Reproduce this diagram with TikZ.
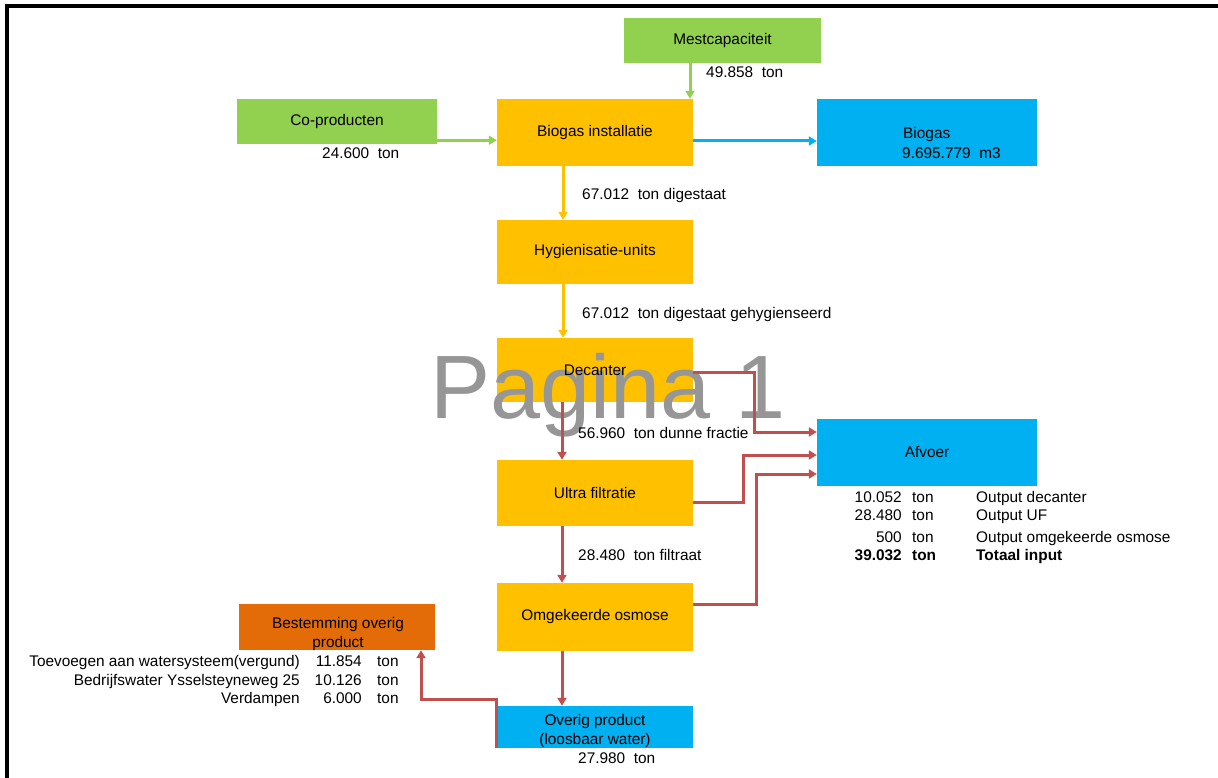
\documentclass[tikz,border=0pt]{standalone}
\usepackage{fontspec}
\setmainfont{Liberation Sans}
\usetikzlibrary{arrows.meta}
\definecolor{cgreen}{HTML}{92D050}
\definecolor{corange}{HTML}{FFC000}
\definecolor{cblue}{HTML}{00B0F0}
\definecolor{cdark}{HTML}{E36C09}
\definecolor{cred}{HTML}{C0504D}
\definecolor{cwm}{HTML}{969696}
\begin{document}
\begin{tikzpicture}[x=1pt,y=-1pt,
  font=\fontsize{15.4}{19}\selectfont,
  box/.style={inner sep=0pt, minimum width=#1, align=center},
  txt/.style={inner sep=0pt},
  conn/.style={line width=3pt, -{Triangle[length=8pt,width=9pt]}},
  garrow/.style={conn, draw=cgreen},
  oarrow/.style={conn, draw=corange},
  barrow/.style={conn, draw=cblue},
  rarrow/.style={conn, draw=cred}
]
\useasboundingbox (0,0) rectangle (1218,778);
\fill[white] (0,0) rectangle (1218,778);
\draw[line width=4pt] (7,778) -- (7,6.5) -- (1218,6.5);

% boxes
\node[box=200pt, minimum height=45pt, fill=cgreen] (copr) at (337,121.5) {Co-producten};
\node[box=197pt, minimum height=45pt, fill=cgreen] (mest) at (722.5,40.5) {Mestcapaciteit};
\node[box=196pt, minimum height=67pt, fill=corange] (bioi) at (595,132.5) {Biogas installatie};
\node[box=220pt, minimum height=67pt, fill=cblue] (biog) at (927,132.5) {};
\node[box=196pt, minimum height=64pt, fill=corange] (hyg) at (595,252) {Hygienisatie-units};
\node[box=196pt, minimum height=64pt, fill=corange] (dec) at (595,370) {};
\node[box=196pt, minimum height=66pt, fill=corange] (uf) at (595,493) {Ultra filtratie};
\node[box=196pt, minimum height=68pt, fill=corange] (ro) at (595,617) {Omgekeerde osmose};
\node[box=196pt, minimum height=42pt, fill=cblue] (ov) at (595,727) {};
\node[box=196pt, minimum height=46pt, fill=cdark] (best) at (337,627) {};
\node[box=220pt, minimum height=67pt, fill=cblue] (afv) at (927,452.5) {Afvoer};

% watermark
\node[txt, anchor=base west, text=cwm, font=\fontsize{90}{90}\selectfont] (wm) at (430,418) {Pagina 1};

% texts inside boxes
\node[txt, anchor=base] (dectxt) at (595,375) {Decanter};
\node[txt, anchor=base west, align=left] (biotxt) at (903,139) {Biogas};
\node[txt, anchor=base west] (biotxt2) at (902,159) {9.695.779~~m3};
\node[txt, anchor=base] (ovtxt1) at (595,725) {Overig product};
\node[txt, anchor=base] (ovtxt2) at (595,744) {(loosbaar water)};
\node[txt, anchor=base] (besttxt1) at (338,628) {Bestemming overig};
\node[txt, anchor=base] (besttxt2) at (338,647) {product};

% connectors
\draw[garrow] ([yshift=4pt]copr.south east) -- ([yshift=4pt]copr.south east -| bioi.west);
\draw[garrow] ([xshift=-32.5pt]mest.south) -- ([xshift=-32.5pt]mest.south |- bioi.north);
\draw[barrow] ([yshift=-8.5pt]bioi.east) -- ([yshift=-8.5pt]bioi.east -| biog.west);
\draw[oarrow] ([xshift=-32pt]bioi.south) -- ([xshift=-32pt]bioi.south |- hyg.north);
\draw[oarrow] ([xshift=-32pt]hyg.south) -- ([xshift=-32pt]hyg.south |- dec.north);
\draw[rarrow] ([xshift=-33pt]dec.south) -- ([xshift=-33pt]dec.south |- uf.north);
\draw[rarrow] ([xshift=-33pt]uf.south) -- ([xshift=-33pt]uf.south |- ro.north);
\draw[rarrow] ([xshift=-33pt]ro.south) -- ([xshift=-33pt]ro.south |- ov.north);
\draw[rarrow] ([yshift=-2pt]dec.east) -- ++(61,0) |- ([yshift=20.5pt]afv.west);
\draw[rarrow] ([yshift=-9pt]uf.east) -- ++(50,0) |- ([yshift=-2.5pt]afv.west);
\draw[rarrow] ([yshift=13pt]ro.east) -- ++(63,0) |- ([yshift=-21.5pt]afv.west);
\draw[rarrow] (ov.south west) -- ++(0,-49) -| ([xshift=84pt]best.south);

% flow labels
\node[txt, anchor=base west] (l1) at (322,159) {24.600~~ton};
\node[txt, anchor=base west] (l2) at (706,78) {49.858~~ton};
\node[txt, anchor=base west] (l3) at (582,200) {67.012~~ton digestaat};
\node[txt, anchor=base west] (l4) at (582,318) {67.012~~ton digestaat gehygienseerd};
\node[txt, anchor=base west] (l5) at (578,438) {56.960~~ton dunne fractie};
\node[txt, anchor=base west] (l6) at (578,560) {28.480~~ton filtraat};
\node[txt, anchor=base west] (l7) at (578,763) {27.980~~ton};

% left table
\node[txt, anchor=base east] (t1a) at (300,666) {Toevoegen aan watersysteem(vergund)};
\node[txt, anchor=base east] (t1b) at (362,666) {11.854};
\node[txt, anchor=base west] (t1c) at (377,666) {ton};
\node[txt, anchor=base east] (t2a) at (300,685) {Bedrijfswater Ysselsteyneweg 25};
\node[txt, anchor=base east] (t2b) at (362,685) {10.126};
\node[txt, anchor=base west] (t2c) at (377,685) {ton};
\node[txt, anchor=base east] (t3a) at (300,703) {Verdampen};
\node[txt, anchor=base east] (t3b) at (362,703) {6.000};
\node[txt, anchor=base west] (t3c) at (377,703) {ton};

% afvoer table
\node[txt, anchor=base east] (a1a) at (902,502) {10.052};
\node[txt, anchor=base west] (a1b) at (912,502) {ton};
\node[txt, anchor=base west] (a1c) at (976,502) {Output decanter};
\node[txt, anchor=base east] (a2a) at (902,520) {28.480};
\node[txt, anchor=base west] (a2b) at (912,520) {ton};
\node[txt, anchor=base west] (a2c) at (976,520) {Output UF};
\node[txt, anchor=base east] (a3a) at (902,542) {500};
\node[txt, anchor=base west] (a3b) at (912,542) {ton};
\node[txt, anchor=base west] (a3c) at (976,542) {Output omgekeerde osmose};
\node[txt, anchor=base east, font=\fontsize{15.4}{19}\selectfont\bfseries] (a4a) at (902,560) {39.032};
\node[txt, anchor=base west, font=\fontsize{15.4}{19}\selectfont\bfseries] (a4b) at (912,560) {ton};
\node[txt, anchor=base west, font=\fontsize{15.4}{19}\selectfont\bfseries] (a4c) at (976,560) {Totaal input};
\end{tikzpicture}
\end{document}
